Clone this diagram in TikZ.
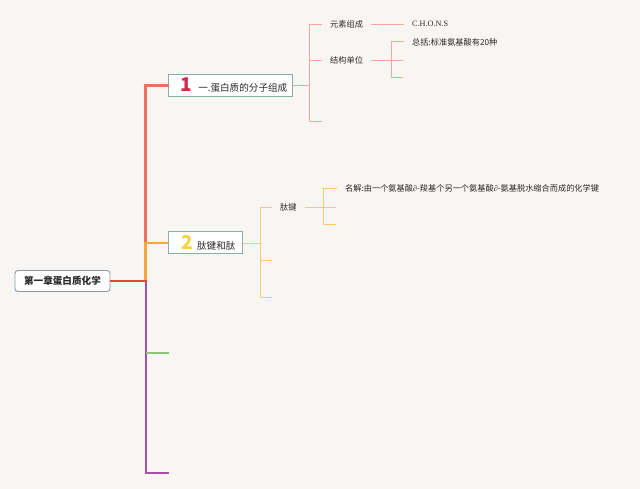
\documentclass[tikz,border=0pt]{standalone}
\usepackage{fontspec}
\setmainfont{Noto Sans CJK SC}
\newfontfamily\lserif{Liberation Serif}
\definecolor{bgc}{HTML}{F8F6F3}
\definecolor{redline}{HTML}{EE6F5E}
\definecolor{rootline}{HTML}{E0483E}
\definecolor{redthin}{HTML}{F3A69C}
\definecolor{orangeline}{HTML}{F6A93A}
\definecolor{orangethin}{HTML}{F7CB72}
\definecolor{purpleline}{HTML}{A452A8}
\definecolor{greenline}{HTML}{8CC47A}
\definecolor{boxborder}{HTML}{86AFA6}
\definecolor{rootborder}{HTML}{8C99AA}
\definecolor{numred}{HTML}{D22B4C}
\definecolor{numyellow}{HTML}{F2D443}
\definecolor{txt}{HTML}{2A2A2A}
\begin{document}
\begin{tikzpicture}[x=1pt,y=-1pt,
  rootbox/.style={draw=rootborder,line width=0.9pt,fill=white,rounded corners=3pt,minimum width=95pt,minimum height=21pt,inner sep=0pt,font=\fontsize{9.6}{10}\selectfont\bfseries,text=txt},
  topicbox/.style={draw=boxborder,line width=1pt,fill=white,minimum height=22pt,inner sep=0pt,anchor=west,font=\fontsize{9.6}{10}\selectfont,text=txt},
  leaf/.style={anchor=west,inner xsep=8pt,inner ysep=2pt,font=\fontsize{8.2}{9}\selectfont,text=txt},
  thickred/.style={draw=redline,line width=2.6pt},
  thickorange/.style={draw=orangeline,line width=2.6pt},
  thinred/.style={draw=redthin,line width=0.9pt},
  thinorange/.style={draw=orangethin,line width=0.9pt},
  purplel/.style={draw=purpleline,line width=2pt},
  greenl/.style={draw=greenline,line width=1.2pt}
]
\fill[bgc] (0,0) rectangle (640,489);
\useasboundingbox (0,0) rectangle (640,489);

% nodes
\node[rootbox] (root) at (62.5,281) {第一章蛋白质化学};
\node[topicbox,minimum width=124pt] (box1) at (168,85.5) {\hspace{7pt}{\color{numred}\fontsize{19}{19}\selectfont\bfseries 1}\hspace{6pt}一.蛋白质的分子组成\hspace{9pt}};
\node[topicbox,minimum width=74pt] (box2) at (168,243) {\hspace{6pt}{\color{numyellow}\fontsize{19}{19}\selectfont\bfseries 2}\hspace{4pt}肽键和肽\hspace{6pt}};

\node[leaf] (t11) at (322,24) {元素组成};
\node[leaf] (t12) at (404,24) {\lserif C.H.O.N.S};
\node[leaf] (t21) at (322,60) {结构单位};
\node[leaf] (t22) at (404,42) {总括:标准氨基酸有20种};
\node[leaf] (t31) at (272,207) {肽键};
\node[leaf] (t41) at (337,188.5) {名解:由一个氨基酸{\lserif ∂}-羧基个另一个氨基酸{\lserif ∂}-氨基脱水缩合而成的化学键};

% coordinates
\coordinate (j0) at (145.5,281);
\coordinate (jp) at (146,281);
\coordinate (jg) at (146,353);
\coordinate (e3) at (169,353);
\coordinate (e4) at (169,473);
\coordinate (j1) at (309,85.5);
\coordinate (b1a) at (309,24);
\coordinate (b1c) at (309,121);
\coordinate (e13) at (322,121);
\coordinate (j2) at (391,60);
\coordinate (b2a) at (391,41.5);
\coordinate (b2c) at (391,77);
\coordinate (e22) at (403,60);
\coordinate (e23) at (403,77);
\coordinate (j3) at (260,243);
\coordinate (b3a) at (260,207);
\coordinate (b3c) at (260,297);
\coordinate (e32) at (272,260);
\coordinate (e33) at (272,297);
\coordinate (j4) at (323,207);
\coordinate (b4a) at (323,188.5);
\coordinate (b4c) at (323,224);
\coordinate (e42) at (336,207);
\coordinate (e43) at (336,224);

% main trunk
\draw[purplel] (jp) |- (e4);
\draw[greenl] (jg) -- (e3);
\draw[thickred,line cap=rect] (j0) |- (box1.west);
\draw[thickorange] (j0) |- (box2.west);
\draw[draw=rootline,line width=2.6pt] (root.east) -- ([xshift=1.3pt]j0);

% branch 1
\draw[thinred] (box1.east) -- (j1);
\draw[thinred] (b1c) -- (b1a) -- (t11.west);
\draw[thinred] (b1c) -- (e13);
\draw[thinred] (t11.east) -- (t12.west);
\draw[thinred] (t21.east) -- (j2);
\draw[thinred] (j1 |- t21.west) -- (t21.west);
\draw[thinred] (b2c) -- (b2a) -- (t22.west |- b2a);
\draw[thinred] (j2) -- (e22);
\draw[thinred] (b2c) -- (e23);

% branch 2
\draw[thinorange] (box2.east) -- (j3);
\draw[thinorange] (b3c) -- (b3a) -- (t31.west);
\draw[thinorange] (j3 |- e32) -- (e32);
\draw[thinorange] (b3c) -- (e33);
\draw[thinorange] (t31.east) -- (j4);
\draw[thinorange] (b4c) -- (b4a) -- (t41.west);
\draw[thinorange] (j4) -- (e42);
\draw[thinorange] (b4c) -- (e43);
\end{tikzpicture}
\end{document}
